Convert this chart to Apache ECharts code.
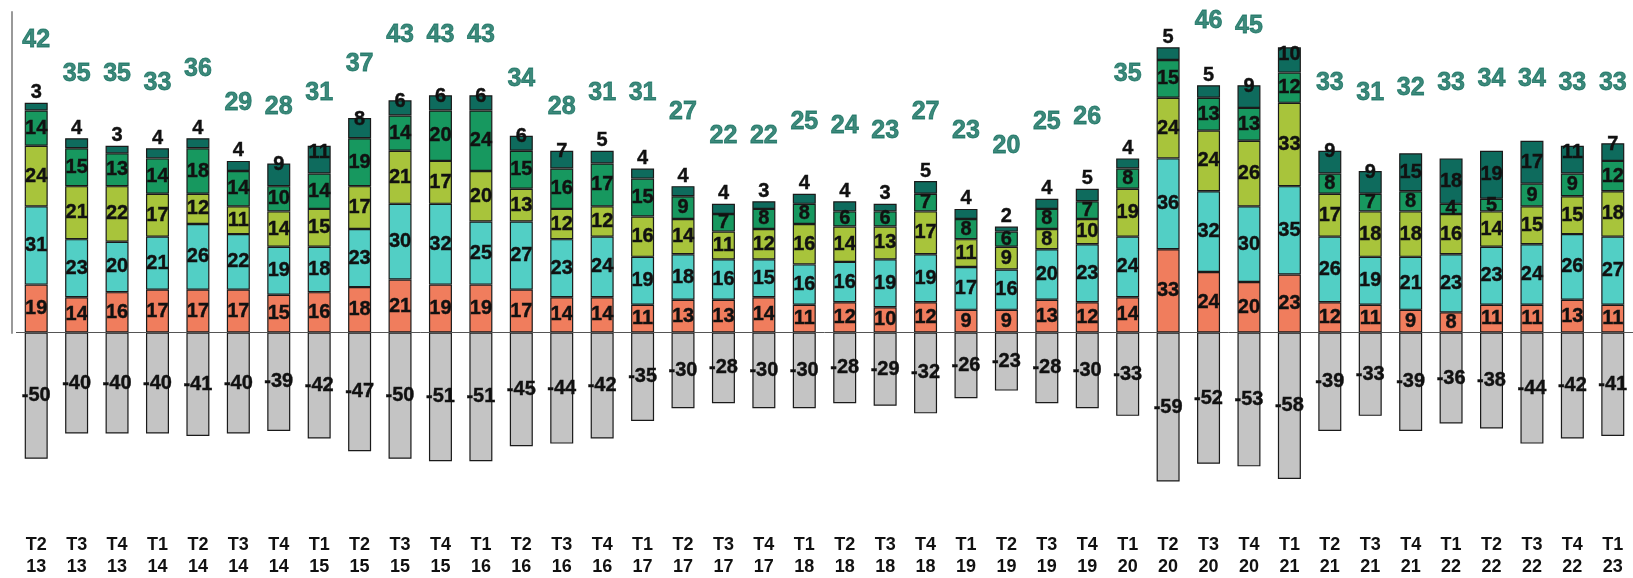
<!DOCTYPE html>
<html><head><meta charset="utf-8">
<script src="https://cdn.jsdelivr.net/npm/echarts@6/dist/echarts.min.js"></script>
<style>html,body{margin:0;padding:0;background:#fff}#c{width:1633px;height:578px}</style>
</head><body><div id="c"></div>
<script>
const categories = ['T2\n13','T3\n13','T4\n13','T1\n14','T2\n14','T3\n14','T4\n14','T1\n15','T2\n15','T3\n15','T4\n15','T1\n16','T2\n16','T3\n16','T4\n16','T1\n17','T2\n17','T3\n17','T4\n17','T1\n18','T2\n18','T3\n18','T4\n18','T1\n19','T2\n19','T3\n19','T4\n19','T1\n20','T2\n20','T3\n20','T4\n20','T1\n21','T2\n21','T3\n21','T4\n21','T1\n22','T2\n22','T3\n22','T4\n22','T1\n23'];
const seriesOrange = [19,14,16,17,17,17,15,16,18,21,19,19,17,14,14,11,13,13,14,11,12,10,12,9,9,13,12,14,33,24,20,23,12,11,9,8,11,11,13,11];
const seriesCyan   = [31,23,20,21,26,22,19,18,23,30,32,25,27,23,24,19,18,16,15,16,16,19,19,17,16,20,23,24,36,32,30,35,26,19,21,23,23,24,26,27];
const seriesLime   = [24,21,22,17,12,11,14,15,17,21,17,20,13,12,12,16,14,11,12,16,14,13,17,11,9,8,10,19,24,24,26,33,17,18,18,16,14,15,15,18];
const seriesGreen  = [14,15,13,14,18,14,10,14,19,14,20,24,15,16,17,15,9,7,8,8,6,6,7,8,6,8,7,8,15,13,13,12,8,7,8,4,5,9,9,12];
const seriesTeal   = [3,4,3,4,4,4,9,11,8,6,6,6,6,7,5,4,4,4,3,4,4,3,5,4,2,4,5,4,5,5,9,10,9,9,15,18,19,17,11,7];
const seriesGray   = [-50,-40,-40,-40,-41,-40,-39,-42,-47,-50,-51,-51,-45,-44,-42,-35,-30,-28,-30,-30,-28,-29,-32,-26,-23,-28,-30,-33,-59,-52,-53,-58,-39,-33,-39,-36,-38,-44,-42,-41];
const topValues    = [42,35,35,33,36,29,28,31,37,43,43,43,34,28,31,31,27,22,22,25,24,23,27,23,20,25,26,35,null,46,45,null,33,31,32,33,34,34,33,33];

const chart = echarts.init(document.getElementById('c'), null, {renderer:'canvas'});
const FONT = '"Liberation Sans", Arial, sans-serif';
const segLabel = {show:true, position:'inside', color:'#111', fontFamily:FONT, fontWeight:'bold', fontSize:20,
  textBorderColor:'#111', textBorderWidth:0.4};
const border = {borderColor:'#1a1a1a', borderWidth:1.2};
function bar(name, data, color, extraLabel){
  return {name, type:'bar', stack:'s', barWidth:23, data,
    itemStyle:Object.assign({color}, border),
    label:Object.assign({}, segLabel, extraLabel||{}), emphasis:{disabled:true}};
}
const tealData = seriesTeal.map(v => {
  let lab;
  if (v <= 5) lab = {position:'top', distance:0};
  else if (v <= 12) lab = {position:'insideTop', distance:0, offset:[0, v >= 10 ? -3 : -9]};
  else lab = {position:'inside'};
  return {value:v, label:lab};
});
const Y_MIN = -60, Y_MAX = 127;
const S = 1.9, B = 36; // top-label secondary scale
const option = {
  animation:false,
  grid:[
    {left:16, right:-7, top:12, bottom:93.3},
    {left:12, top:12, height:321, width:10}
  ],
  xAxis:[
    {type:'category', gridIndex:0, data:categories, position:'bottom',
     axisLine:{show:false}, axisTick:{show:false},
     axisLabel:{margin:50, color:'#111', fontFamily:FONT, fontWeight:'bold', fontSize:18, lineHeight:22, interval:0}},
    {type:'category', gridIndex:1, data:[''], show:false}
  ],
  yAxis:[
    {type:'value', gridIndex:0, min:Y_MIN, max:Y_MAX, show:false, splitLine:{show:false}},
    {type:'value', gridIndex:0, min:(Y_MIN-B)/S, max:(Y_MAX-B)/S, show:false, splitLine:{show:false}},
    {type:'value', gridIndex:1, min:0, max:1, axisLine:{show:true, lineStyle:{color:'#999', width:2}},
     axisTick:{show:false}, axisLabel:{show:false}, splitLine:{show:false}}
  ],
  series:[
    bar('orange', seriesOrange, '#F07D5D'),
    bar('cyan', seriesCyan, '#52CFC5'),
    bar('lime', seriesLime, '#A8C43B'),
    bar('green', seriesGreen, '#17985F'),
    bar('teal', tealData, '#0E6B5D'),
    Object.assign(bar('gray', seriesGray, '#C4C4C4'), {
      markLine:{silent:true, symbol:'none', label:{show:false},
        lineStyle:{color:'#555', width:1, type:'solid'}, data:[{yAxis:0}]}
    }),
    {name:'top', type:'scatter', yAxisIndex:1, symbolSize:1, itemStyle:{color:'rgba(0,0,0,0)'},
     data:topValues.map(v => v == null ? '-' : v),
     label:{show:true, position:'inside', color:'#0D6C5A', fontFamily:FONT, fontWeight:'bold', fontSize:25,
       textBorderColor:'#0D6C5A', textBorderWidth:0.8},
     emphasis:{disabled:true}, z:5}
  ]
};
chart.setOption(option);
</script></body></html>
